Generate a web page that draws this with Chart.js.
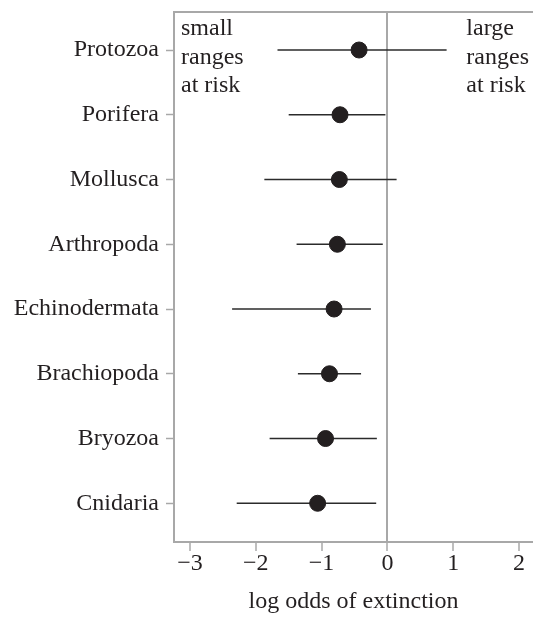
<!DOCTYPE html>
<html>
<head>
<meta charset="utf-8">
<script src="https://cdn.jsdelivr.net/npm/chart.js@4"></script>
<style>
  body { margin: 0; background: #fff; }
  #wrap { width: 533px; height: 617px; }
</style>
</head>
<body>
<div id="wrap"><canvas id="myChart" width="533" height="617"></canvas></div>
<script>
const categories = ['Protozoa', 'Porifera', 'Mollusca', 'Arthropoda', 'Echinodermata', 'Brachiopoda', 'Bryozoa', 'Cnidaria'];
const estimate = [-0.43, -0.72, -0.73, -0.76, -0.81, -0.88, -0.94, -1.06];
const lower = [-1.67, -1.50, -1.87, -1.38, -2.36, -1.36, -1.79, -2.29];
const upper = [0.90, -0.03, 0.14, -0.07, -0.25, -0.40, -0.16, -0.17];
const xTicks = [-3, -2, -1, 0, 1, 2];
const leftNote = ['small', 'ranges', 'at risk'];
const rightNote = ['large', 'ranges', 'at risk'];

const axisGray = '#a8a8a8';
const serif = "'Liberation Serif', 'DejaVu Serif', serif";

// one little line per row for the interval
const intervalSets = categories.map((c, i) => ({
    label: c,
    data: [{ x: lower[i], y: i }, { x: upper[i], y: i }],
    showLine: true,
    borderColor: '#2b2b2b',
    borderWidth: 1.5,
    pointRadius: 0,
    order: 2
}));

const dots = {
    label: 'estimate',
    data: estimate.map((v, i) => ({ x: v, y: i })),
    backgroundColor: '#231f20',
    borderColor: '#231f20',
    pointRadius: 8,
    pointHoverRadius: 8,
    order: 0
};

const notes = {
    id: 'notes',
    afterDraw(chart) {
        const { ctx, chartArea } = chart;
        ctx.save();
        ctx.font = '24px ' + serif;
        ctx.fillStyle = '#231f20';
        ctx.textBaseline = 'alphabetic';
        ctx.textAlign = 'left';
        leftNote.forEach((t, k) => ctx.fillText(t, chartArea.left + 7, chartArea.top + 23 + k * 28.5));
        const xr = chart.scales.x.getPixelForValue(1.2);
        rightNote.forEach((t, k) => ctx.fillText(t, xr, chartArea.top + 23 + k * 28.5));
        ctx.restore();
    }
};

const noPad = (s) => { s.paddingLeft = 0; s.paddingRight = 0; s.paddingTop = 0; s.paddingBottom = 0; };

const ctx = document.getElementById('myChart').getContext('2d');
const myChart = new Chart(ctx, {
    type: 'scatter',
    data: { datasets: [dots, ...intervalSets] },
    options: {
        responsive: false,
        devicePixelRatio: 1,
        animation: false,
        layout: { autoPadding: false, padding: { top: 12, right: 0, left: 0, bottom: 0 } },
        plugins: { legend: { display: false }, tooltip: { enabled: false } },
        scales: {
            x: {
                type: 'linear',
                min: -3.243,
                max: 2.213,
                afterBuildTicks: (s) => { s.ticks = xTicks.map(v => ({ value: v })); },
                afterFit: (s) => { s.height = 75; noPad(s); },
                ticks: {
                    font: { family: serif, size: 24 },
                    color: '#231f20',
                    padding: -2,
                    callback: (v) => (v < 0 ? '\u2212' + Math.abs(v) : String(v))
                },
                grid: {
                    color: (c) => (c.tick && c.tick.value === 0 ? axisGray : 'rgba(0,0,0,0)'),
                    lineWidth: 2,
                    tickColor: axisGray,
                    tickLength: 9,
                    tickWidth: 1.5
                },
                border: { color: axisGray, width: 2 },
                title: {
                    display: true,
                    text: 'log odds of extinction',
                    font: { family: serif, size: 24 },
                    color: '#231f20',
                    padding: { top: 0, bottom: 1 }
                }
            },
            xTop: {
                type: 'linear',
                position: 'top',
                min: -3.243,
                max: 2.213,
                afterFit: (s) => { s.height = 0; noPad(s); },
                ticks: { display: false },
                grid: { display: false, drawTicks: false },
                border: { color: axisGray, width: 2 }
            },
            y: {
                type: 'linear',
                reverse: true,
                min: -0.587,
                max: 7.598,
                afterBuildTicks: (s) => { s.ticks = categories.map((c, i) => ({ value: i })); },
                afterFit: (s) => { s.width = 174; noPad(s); },
                ticks: {
                    font: { family: serif, size: 24 },
                    color: '#231f20',
                    padding: 7,
                    callback: (v) => categories[v]
                },
                grid: {
                    drawOnChartArea: false,
                    tickColor: axisGray,
                    tickLength: 8,
                    tickWidth: 1.5
                },
                border: { color: axisGray, width: 2 }
            }
        }
    },
    plugins: [notes]
});
</script>
</body>
</html>
